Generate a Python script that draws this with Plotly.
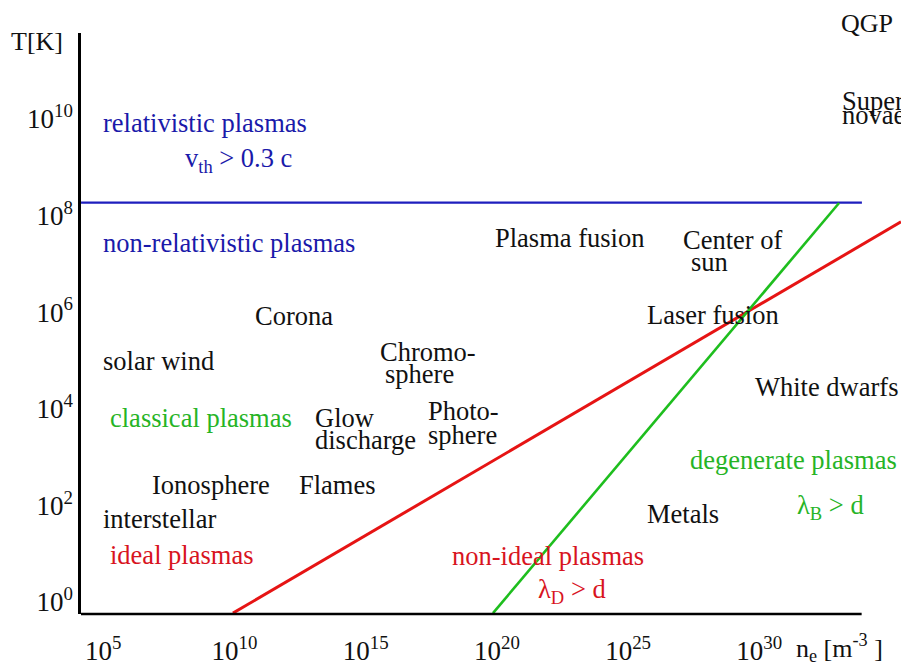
import plotly.graph_objects as go

# boundary lines (log10 n_e [m^-3], log10 T [K])
relativistic_logn = [4.15, 33.91]
relativistic_logT = [8.27, 8.27]
ideal_logn = [9.94, 35.40]
ideal_logT = [-0.23, 7.87]
degenerate_logn = [19.85, 33.04]
degenerate_logT = [-0.23, 8.26]

# region / object labels: text, log10 n, log10 T, colour group
labels = [
    "relativistic plasmas", "v<sub>th</sub> > 0.3 c", "non-relativistic plasmas",
    "Plasma fusion", "Center of", "sun", "Corona", "Laser fusion",
    "solar wind", "Chromo-", "sphere", "White dwarfs", "classical plasmas",
    "Glow", "discharge", "Photo-", "sphere", "degenerate plasmas",
    "Ionosphere", "Flames", "Metals", "λ<sub>B</sub> > d", "interstellar",
    "ideal plasmas", "non-ideal plasmas", "λ<sub>D</sub> > d",
    "Super", "novae",
]
label_logn = [
    4.92, 8.04, 4.92,
    19.86, 27.02, 27.33, 10.71, 25.65,
    4.92, 15.47, 15.66, 29.76, 5.18,
    13.00, 13.00, 17.30, 17.30, 27.29,
    6.78, 12.39, 25.65, 31.37, 4.92,
    5.18, 18.22, 21.50,
    33.08, 33.08,
]
label_logT = [
    9.92, 9.15, 7.43,
    7.54, 7.50, 7.04, 5.92, 5.94,
    4.98, 5.18, 4.72, 4.45, 3.80,
    3.82, 3.36, 3.96, 3.45, 2.94,
    2.42, 2.42, 1.82, 1.97, 1.72,
    0.97, 0.95, 0.22,
    10.38, 10.08,
]
label_group = [
    "blue", "blue", "blue",
    "black", "black", "black", "black", "black",
    "black", "black", "black", "black", "green",
    "black", "black", "black", "black", "green",
    "black", "black", "black", "green", "black",
    "red", "red", "red",
    "black", "black",
]

x_exponents = [5, 10, 15, 20, 25, 30]
y_exponents = [0, 2, 4, 6, 8, 10]

text_colors = {"black": "#111111", "blue": "#1a1aaa", "green": "#26b426", "red": "#d8141e"}
FONT = "Liberation Serif, Times New Roman, serif"

fig = go.Figure()

fig.add_trace(go.Scatter(
    x=[10.0 ** v for v in relativistic_logn], y=[10.0 ** v for v in relativistic_logT],
    mode="lines", line=dict(color="#1e1ebe", width=2.2), hoverinfo="skip"
))
fig.add_trace(go.Scatter(
    x=[10.0 ** v for v in ideal_logn], y=[10.0 ** v for v in ideal_logT],
    mode="lines", line=dict(color="#e61414", width=3), hoverinfo="skip"
))
fig.add_trace(go.Scatter(
    x=[10.0 ** v for v in degenerate_logn], y=[10.0 ** v for v in degenerate_logT],
    mode="lines", line=dict(color="#1ebe1e", width=2.6), hoverinfo="skip"
))

for txt, ln, lt, grp in zip(labels, label_logn, label_logT, label_group):
    fig.add_annotation(
        x=ln, y=lt, xref="x", yref="y", text=txt, showarrow=False,
        xanchor="left", yanchor="middle",
        font=dict(family=FONT, size=26.5, color=text_colors[grp])
    )

# texts outside the plotting area
fig.add_annotation(x=-0.088, y=0.985, xref="paper", yref="paper", text="T[K]",
                   showarrow=False, xanchor="left", yanchor="middle",
                   font=dict(family=FONT, size=26, color="#111111"))
fig.add_annotation(x=0.924, y=1.016, xref="paper", yref="paper", text="QGP",
                   showarrow=False, xanchor="left", yanchor="middle",
                   font=dict(family=FONT, size=26, color="#111111"))
fig.add_annotation(x=0.870, y=-0.058, xref="paper", yref="paper",
                   text="n<sub>e</sub> [m<sup>-3</sup> ]",
                   showarrow=False, xanchor="left", yanchor="middle",
                   font=dict(family=FONT, size=26, color="#111111"))

# bottom axis line stops short of the right edge
fig.add_shape(type="line", xref="paper", yref="paper", x0=0, x1=0.952, y0=0, y1=0,
              line=dict(color="black", width=2.5))

fig.update_xaxes(
    type="log", range=[4.149, 35.40],
    tickvals=[10.0 ** e for e in x_exponents],
    ticktext=[f"10<sup>{e}</sup>" for e in x_exponents],
    showgrid=False, zeroline=False, showline=False, ticks="",
    ticklabelstandoff=18,
    tickfont=dict(family=FONT, size=27, color="#111111")
)
fig.update_yaxes(
    type="log", range=[-0.248, 11.78],
    tickvals=[10.0 ** e for e in y_exponents],
    ticktext=[f"10<sup>{e}</sup>" for e in y_exponents],
    showgrid=False, zeroline=False, showline=True, linecolor="black", linewidth=2.5,
    ticks="", tickfont=dict(family=FONT, size=27, color="#111111")
)

fig.update_layout(
    width=901, height=666,
    margin=dict(l=81, r=0, t=33, b=52),
    paper_bgcolor="white", plot_bgcolor="white",
    showlegend=False
)

# drop the default page margin so the figure fills the window exactly
fig.write_html(
    "out.html",
    config={"displayModeBar": False},
    post_script="document.body.style.margin='0';document.body.style.overflow='hidden';"
)
